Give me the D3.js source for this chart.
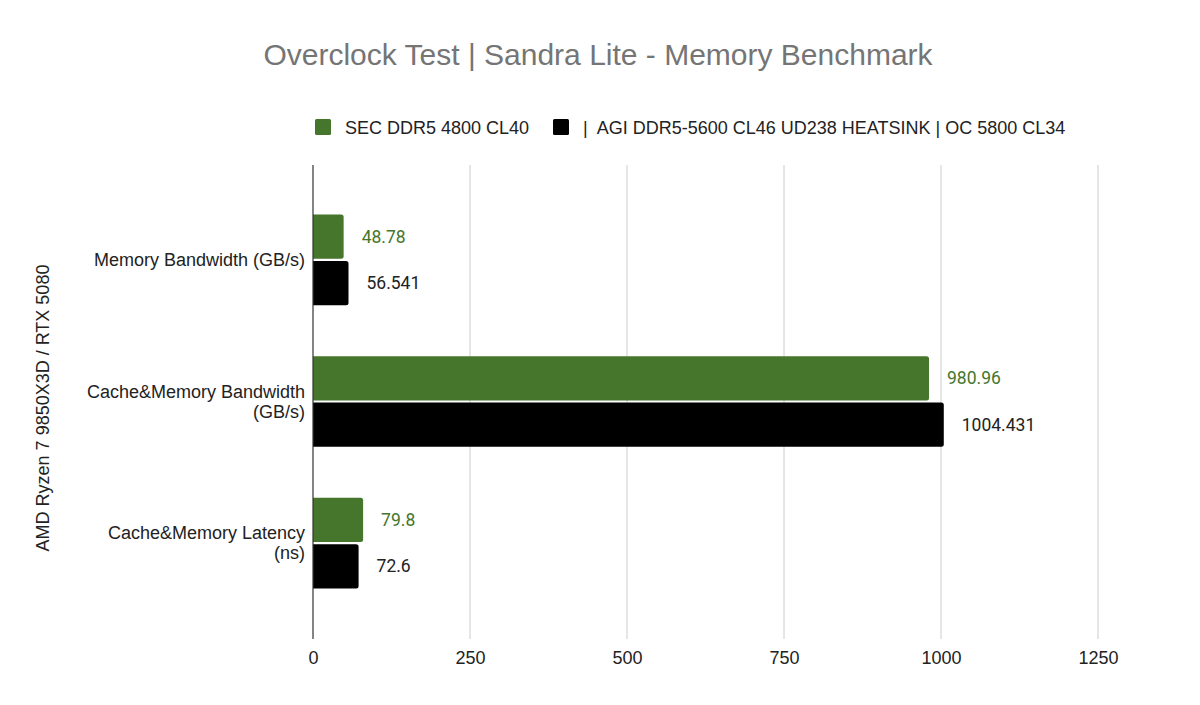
<!DOCTYPE html>
<html>
<head>
<meta charset="utf-8">
<script src="https://cdn.jsdelivr.net/npm/d3@7"></script>
<style>
  body { margin: 0; background: #fff; }
  svg text { font-family: Arial, "Liberation Sans", sans-serif; }
</style>
</head>
<body>
<div id="chart"></div>
<script>
// data
var categories = [
    ['Memory Bandwidth (GB/s)'],
    ['Cache&Memory Bandwidth', '(GB/s)'],
    ['Cache&Memory Latency', '(ns)']
];
var seriesNames = ['SEC DDR5 4800 CL40', '|  AGI DDR5-5600 CL46 UD238 HEATSINK | OC 5800 CL34'];
var secValues = [48.78, 980.96, 79.8];
var agiValues = [56.541, 1004.431, 72.6];
var xTicks = [0, 250, 500, 750, 1000, 1250];

var colors = ['#45762b', '#000000'];
var labelColors = ['#45762b', '#222222'];
var width = 1200, height = 705;
var plot = { left: 313, right: 1098, top: 165, bottom: 639 };

var svg = d3.select('#chart').append('svg')
    .attr('width', width)
    .attr('height', height);

var x = d3.scaleLinear().domain([0, 1250]).range([plot.left, plot.right]);
var y = d3.scaleBand().domain(d3.range(categories.length)).range([189, 614]).paddingInner(0.36).paddingOuter(0.18);
var ySub = d3.scaleBand().domain([0, 1]).range([0, y.bandwidth()]).paddingInner(0.045);

// title
svg.append('text')
    .attr('x', 598).attr('y', 65)
    .attr('text-anchor', 'middle')
    .style('font-size', '30px')
    .attr('fill', '#757575')
    .text('Overclock Test | Sandra Lite - Memory Benchmark');

// legend
var legendItems = [{ x: 315, name: seriesNames[0], color: colors[0] }, { x: 553, name: seriesNames[1], color: colors[1] }];
var lg = svg.selectAll('g.legend').data(legendItems).enter().append('g').attr('class', 'legend');
lg.append('rect')
    .attr('x', function (d) { return d.x; })
    .attr('y', 119).attr('width', 16).attr('height', 16)
    .attr('rx', 1.5)
    .attr('fill', function (d) { return d.color; });
lg.append('text')
    .attr('x', function (d) { return d.x + 30; })
    .attr('y', 134)
    .style('font-size', '18px')
    .style('white-space', 'pre')
    .attr('fill', '#222')
    .text(function (d) { return d.name; });

// gridlines
svg.append('g').selectAll('line').data(xTicks.slice(1)).enter().append('line')
    .attr('x1', function (d) { return x(d); }).attr('x2', function (d) { return x(d); })
    .attr('y1', plot.top).attr('y2', plot.bottom)
    .attr('stroke', '#cccccc').attr('stroke-width', 1);

// x axis tick labels
var xAxis = d3.axisBottom(x).tickValues(xTicks).tickSize(0).tickPadding(0).tickFormat(d3.format('d'));
var xg = svg.append('g').attr('transform', 'translate(0,' + plot.bottom + ')').call(xAxis);
xg.select('.domain').remove();
xg.selectAll('text').attr('dy', null).attr('y', 25).style('font-size', '18px').attr('fill', '#222')
    .style('font-family', 'Arial, "Liberation Sans", sans-serif');

// bars
var series = [secValues, agiValues];
var barsG = svg.append('g');
series.forEach(function (vals, s) {
    barsG.selectAll('path.s' + s).data(vals).enter().append('path')
        .attr('class', 's' + s)
        .attr('fill', colors[s])
        .attr('d', function (d, i) {
            var x0 = x(0), x1 = x(d), y0 = y(i) + ySub(s), h = ySub.bandwidth(), r = 2.5;
            return 'M' + x0 + ',' + y0 + 'H' + (x1 - r) + 'Q' + x1 + ',' + y0 + ' ' + x1 + ',' + (y0 + r) +
                'V' + (y0 + h - r) + 'Q' + x1 + ',' + (y0 + h) + ' ' + (x1 - r) + ',' + (y0 + h) + 'H' + x0 + 'Z';
        });
    barsG.selectAll('text.s' + s).data(vals).enter().append('text')
        .attr('class', 's' + s)
        .attr('x', function (d) { return x(d) + 18; })
        .attr('y', function (d, i) { return y(i) + ySub(s) + ySub.bandwidth() / 2 + 6; })
        .style('font-size', '17.5px')
        .style('font-family', 'Roboto, sans-serif')
        .attr('fill', labelColors[s])
        .text(function (d) { return d; });
});

// baseline axis
svg.append('line')
    .attr('x1', x(0)).attr('x2', x(0))
    .attr('y1', plot.top).attr('y2', plot.bottom)
    .attr('stroke', '#333').attr('stroke-width', 1.2);

// category labels
var cg = svg.append('g').selectAll('text').data(categories).enter().append('text')
    .attr('text-anchor', 'end')
    .style('font-size', '18px')
    .attr('fill', '#222')
    .attr('y', function (d, i) { return y(i) + y.bandwidth() / 2 + 6 - (d.length - 1) * 10; });
cg.selectAll('tspan').data(function (d) { return d; }).enter().append('tspan')
    .attr('x', 305)
    .attr('dy', function (d, j) { return j === 0 ? 0 : 20; })
    .text(function (d) { return d; });

// y axis title
svg.append('text')
    .attr('transform', 'translate(49,408) rotate(-90)')
    .attr('text-anchor', 'middle')
    .style('font-size', '18px')
    .attr('fill', '#222')
    .text('AMD Ryzen 7 9850X3D / RTX 5080');
</script>
</body>
</html>
